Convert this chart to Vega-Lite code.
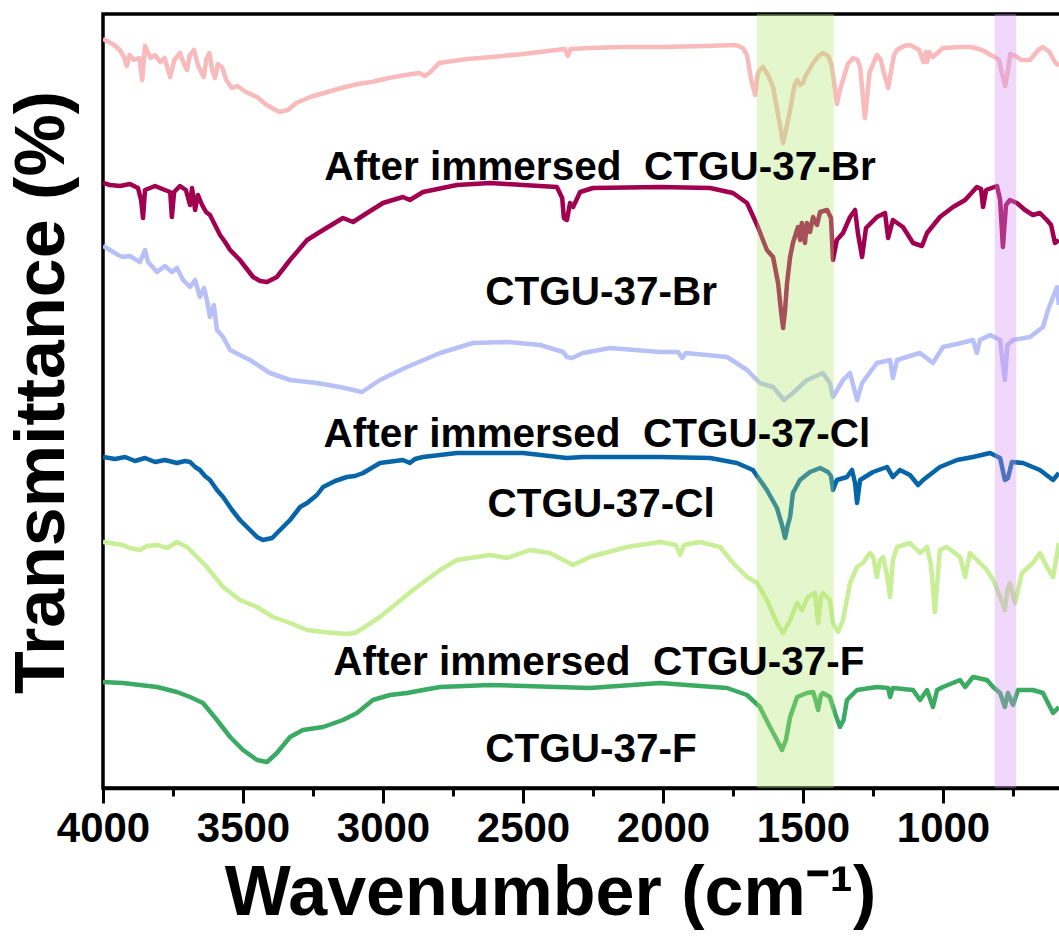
{
  "$schema": "https://vega.github.io/schema/vega-lite/v6.json",
  "autosize": "none",
  "width": 959,
  "height": 774,
  "padding": {"left": 103, "top": 14, "right": 0, "bottom": 150},
  "background": "white",
  "config": {
    "font": "Liberation Sans",
    "view": {"stroke": "black", "strokeWidth": 3.5}
  },
  "datasets": {
    "br_immersed": [
      {"w":4000,"t":749},{"w":3985,"t":747},{"w":3960,"t":743},{"w":3940,"t":738},{"w":3925,"t":731},{"w":3915,"t":722},{"w":3905,"t":733},{"w":3890,"t":728},{"w":3870,"t":730},{"w":3860,"t":708},{"w":3850,"t":742},{"w":3830,"t":730},{"w":3815,"t":733},{"w":3795,"t":726},{"w":3780,"t":730},{"w":3760,"t":711},{"w":3745,"t":728},{"w":3725,"t":735},{"w":3710,"t":723},{"w":3700,"t":718},{"w":3690,"t":733},{"w":3675,"t":738},{"w":3660,"t":722},{"w":3640,"t":711},{"w":3630,"t":730},{"w":3620,"t":735},{"w":3610,"t":718},{"w":3600,"t":710},{"w":3590,"t":724},{"w":3575,"t":721},{"w":3560,"t":708},{"w":3540,"t":700},{"w":3520,"t":702},{"w":3490,"t":696},{"w":3450,"t":691},{"w":3420,"t":684},{"w":3390,"t":679},{"w":3370,"t":676},{"w":3340,"t":678},{"w":3310,"t":685},{"w":3260,"t":691},{"w":3210,"t":695},{"w":3150,"t":700},{"w":3090,"t":704},{"w":3040,"t":706},{"w":2980,"t":710},{"w":2920,"t":713},{"w":2870,"t":715},{"w":2850,"t":712},{"w":2830,"t":716},{"w":2800,"t":725},{"w":2700,"t":729},{"w":2610,"t":731},{"w":2500,"t":734},{"w":2380,"t":738},{"w":2350,"t":739},{"w":2340,"t":732},{"w":2330,"t":739},{"w":2260,"t":740},{"w":2150,"t":741},{"w":2000,"t":741},{"w":1850,"t":742},{"w":1740,"t":743},{"w":1715,"t":740},{"w":1700,"t":733},{"w":1685,"t":708},{"w":1671,"t":693},{"w":1662,"t":714},{"w":1654,"t":718},{"w":1643,"t":721},{"w":1625,"t":713},{"w":1607,"t":701},{"w":1589,"t":673},{"w":1571,"t":645},{"w":1557,"t":663},{"w":1546,"t":678},{"w":1530,"t":703},{"w":1521,"t":708},{"w":1510,"t":703},{"w":1500,"t":705},{"w":1490,"t":713},{"w":1482,"t":716},{"w":1464,"t":725},{"w":1445,"t":732},{"w":1429,"t":735},{"w":1410,"t":732},{"w":1398,"t":723},{"w":1389,"t":706},{"w":1379,"t":684},{"w":1368,"t":698},{"w":1357,"t":708},{"w":1340,"t":724},{"w":1321,"t":730},{"w":1305,"t":728},{"w":1296,"t":721},{"w":1288,"t":698},{"w":1279,"t":670},{"w":1270,"t":693},{"w":1262,"t":716},{"w":1254,"t":721},{"w":1236,"t":733},{"w":1222,"t":728},{"w":1212,"t":716},{"w":1196,"t":700},{"w":1186,"t":716},{"w":1175,"t":733},{"w":1164,"t":738},{"w":1140,"t":742},{"w":1118,"t":743},{"w":1085,"t":738},{"w":1070,"t":726},{"w":1062,"t":736},{"w":1057,"t":726},{"w":1050,"t":736},{"w":1036,"t":731},{"w":1000,"t":740},{"w":940,"t":741},{"w":900,"t":741},{"w":860,"t":738},{"w":830,"t":733},{"w":815,"t":731},{"w":800,"t":728},{"w":788,"t":713},{"w":778,"t":702},{"w":768,"t":718},{"w":760,"t":734},{"w":740,"t":732},{"w":720,"t":728},{"w":689,"t":728},{"w":660,"t":738},{"w":643,"t":741},{"w":620,"t":736},{"w":600,"t":726},{"w":586,"t":722}
    ],
    "br": [
      {"w":4000,"t":605},{"w":3975,"t":603},{"w":3939,"t":602},{"w":3904,"t":604},{"w":3875,"t":600},{"w":3864,"t":588},{"w":3857,"t":570},{"w":3850,"t":598},{"w":3814,"t":602},{"w":3779,"t":598},{"w":3760,"t":596},{"w":3754,"t":571},{"w":3746,"t":596},{"w":3725,"t":602},{"w":3704,"t":598},{"w":3689,"t":583},{"w":3682,"t":600},{"w":3671,"t":578},{"w":3661,"t":593},{"w":3646,"t":583},{"w":3632,"t":576},{"w":3618,"t":573},{"w":3600,"t":563},{"w":3582,"t":553},{"w":3564,"t":546},{"w":3546,"t":538},{"w":3511,"t":528},{"w":3464,"t":511},{"w":3439,"t":507},{"w":3414,"t":506},{"w":3379,"t":511},{"w":3332,"t":528},{"w":3271,"t":548},{"w":3214,"t":558},{"w":3143,"t":570},{"w":3107,"t":566},{"w":3057,"t":575},{"w":3000,"t":585},{"w":2929,"t":591},{"w":2904,"t":588},{"w":2857,"t":596},{"w":2736,"t":603},{"w":2618,"t":605},{"w":2500,"t":603},{"w":2379,"t":601},{"w":2360,"t":590},{"w":2354,"t":570},{"w":2343,"t":568},{"w":2332,"t":585},{"w":2321,"t":581},{"w":2296,"t":596},{"w":2250,"t":600},{"w":2011,"t":601},{"w":1832,"t":600},{"w":1750,"t":595},{"w":1700,"t":585},{"w":1664,"t":563},{"w":1629,"t":538},{"w":1607,"t":531},{"w":1589,"t":505},{"w":1579,"t":478},{"w":1571,"t":460},{"w":1564,"t":478},{"w":1557,"t":505},{"w":1546,"t":531},{"w":1536,"t":545},{"w":1518,"t":561},{"w":1510,"t":548},{"w":1504,"t":565},{"w":1493,"t":545},{"w":1486,"t":565},{"w":1475,"t":556},{"w":1464,"t":571},{"w":1450,"t":563},{"w":1439,"t":576},{"w":1414,"t":578},{"w":1400,"t":570},{"w":1393,"t":528},{"w":1379,"t":548},{"w":1357,"t":555},{"w":1332,"t":571},{"w":1314,"t":578},{"w":1304,"t":555},{"w":1289,"t":531},{"w":1275,"t":560},{"w":1236,"t":571},{"w":1207,"t":575},{"w":1196,"t":550},{"w":1179,"t":568},{"w":1143,"t":561},{"w":1107,"t":545},{"w":1075,"t":542},{"w":1057,"t":555},{"w":1011,"t":571},{"w":964,"t":581},{"w":921,"t":588},{"w":879,"t":601},{"w":864,"t":599},{"w":857,"t":581},{"w":846,"t":598},{"w":807,"t":602},{"w":796,"t":588},{"w":786,"t":541},{"w":775,"t":583},{"w":761,"t":588},{"w":736,"t":585},{"w":707,"t":578},{"w":679,"t":573},{"w":654,"t":575},{"w":629,"t":568},{"w":614,"t":563},{"w":600,"t":545},{"w":586,"t":548}
    ],
    "cl_immersed": [
      {"w":4000,"t":542},{"w":3975,"t":538},{"w":3946,"t":533},{"w":3929,"t":531},{"w":3904,"t":532},{"w":3868,"t":526},{"w":3850,"t":538},{"w":3839,"t":526},{"w":3807,"t":516},{"w":3779,"t":522},{"w":3754,"t":516},{"w":3736,"t":520},{"w":3714,"t":508},{"w":3689,"t":501},{"w":3671,"t":508},{"w":3654,"t":491},{"w":3639,"t":500},{"w":3629,"t":488},{"w":3618,"t":471},{"w":3604,"t":483},{"w":3593,"t":458},{"w":3571,"t":451},{"w":3546,"t":438},{"w":3511,"t":433},{"w":3475,"t":428},{"w":3404,"t":415},{"w":3332,"t":408},{"w":3236,"t":405},{"w":3154,"t":401},{"w":3075,"t":396},{"w":3011,"t":408},{"w":2914,"t":421},{"w":2796,"t":435},{"w":2679,"t":445},{"w":2557,"t":446},{"w":2439,"t":443},{"w":2357,"t":436},{"w":2343,"t":431},{"w":2325,"t":430},{"w":2286,"t":435},{"w":2189,"t":440},{"w":2011,"t":436},{"w":1946,"t":436},{"w":1932,"t":430},{"w":1918,"t":435},{"w":1771,"t":431},{"w":1700,"t":418},{"w":1654,"t":405},{"w":1607,"t":401},{"w":1568,"t":388},{"w":1536,"t":395},{"w":1486,"t":408},{"w":1429,"t":415},{"w":1404,"t":405},{"w":1393,"t":391},{"w":1357,"t":408},{"w":1332,"t":415},{"w":1307,"t":388},{"w":1289,"t":405},{"w":1236,"t":425},{"w":1189,"t":428},{"w":1179,"t":410},{"w":1164,"t":428},{"w":1107,"t":433},{"w":1082,"t":435},{"w":1036,"t":425},{"w":1000,"t":441},{"w":950,"t":444},{"w":893,"t":448},{"w":879,"t":435},{"w":868,"t":448},{"w":832,"t":453},{"w":796,"t":448},{"w":779,"t":408},{"w":770,"t":443},{"w":750,"t":448},{"w":689,"t":451},{"w":643,"t":461},{"w":625,"t":478},{"w":607,"t":491},{"w":593,"t":501},{"w":586,"t":483}
    ],
    "cl": [
      {"w":4000,"t":331},{"w":3957,"t":329},{"w":3921,"t":331},{"w":3886,"t":327},{"w":3850,"t":330},{"w":3814,"t":326},{"w":3779,"t":328},{"w":3736,"t":325},{"w":3707,"t":327},{"w":3689,"t":326},{"w":3671,"t":321},{"w":3654,"t":318},{"w":3636,"t":312},{"w":3618,"t":308},{"w":3593,"t":298},{"w":3571,"t":291},{"w":3539,"t":278},{"w":3511,"t":268},{"w":3475,"t":258},{"w":3450,"t":251},{"w":3429,"t":248},{"w":3396,"t":250},{"w":3357,"t":261},{"w":3332,"t":268},{"w":3296,"t":281},{"w":3271,"t":285},{"w":3236,"t":293},{"w":3214,"t":301},{"w":3171,"t":307},{"w":3129,"t":311},{"w":3100,"t":312},{"w":3071,"t":315},{"w":3011,"t":325},{"w":2929,"t":328},{"w":2904,"t":325},{"w":2886,"t":329},{"w":2857,"t":331},{"w":2736,"t":335},{"w":2500,"t":335},{"w":2343,"t":330},{"w":2286,"t":331},{"w":2011,"t":331},{"w":1832,"t":330},{"w":1736,"t":325},{"w":1679,"t":318},{"w":1629,"t":298},{"w":1593,"t":280},{"w":1575,"t":263},{"w":1564,"t":250},{"w":1554,"t":263},{"w":1546,"t":271},{"w":1536,"t":295},{"w":1511,"t":308},{"w":1475,"t":316},{"w":1439,"t":320},{"w":1411,"t":316},{"w":1400,"t":312},{"w":1393,"t":298},{"w":1379,"t":308},{"w":1343,"t":311},{"w":1325,"t":318},{"w":1314,"t":305},{"w":1307,"t":285},{"w":1296,"t":308},{"w":1250,"t":316},{"w":1200,"t":321},{"w":1179,"t":311},{"w":1154,"t":318},{"w":1118,"t":313},{"w":1089,"t":303},{"w":1071,"t":308},{"w":1011,"t":321},{"w":950,"t":328},{"w":893,"t":331},{"w":832,"t":335},{"w":796,"t":330},{"w":779,"t":308},{"w":768,"t":310},{"w":754,"t":326},{"w":714,"t":325},{"w":654,"t":318},{"w":607,"t":308},{"w":586,"t":315}
    ],
    "f_immersed": [
      {"w":4000,"t":246},{"w":3975,"t":245},{"w":3929,"t":243},{"w":3904,"t":240},{"w":3868,"t":238},{"w":3843,"t":242},{"w":3807,"t":243},{"w":3771,"t":240},{"w":3736,"t":246},{"w":3700,"t":241},{"w":3664,"t":231},{"w":3629,"t":221},{"w":3600,"t":211},{"w":3571,"t":201},{"w":3511,"t":188},{"w":3450,"t":181},{"w":3393,"t":171},{"w":3332,"t":165},{"w":3271,"t":158},{"w":3214,"t":156},{"w":3129,"t":154},{"w":3100,"t":155},{"w":3071,"t":160},{"w":3011,"t":171},{"w":2950,"t":185},{"w":2893,"t":198},{"w":2796,"t":218},{"w":2736,"t":228},{"w":2618,"t":233},{"w":2557,"t":230},{"w":2475,"t":238},{"w":2404,"t":235},{"w":2357,"t":228},{"w":2321,"t":223},{"w":2261,"t":231},{"w":2129,"t":241},{"w":2011,"t":246},{"w":1954,"t":243},{"w":1939,"t":233},{"w":1925,"t":243},{"w":1868,"t":246},{"w":1796,"t":241},{"w":1750,"t":225},{"w":1700,"t":211},{"w":1664,"t":205},{"w":1629,"t":188},{"w":1593,"t":165},{"w":1571,"t":155},{"w":1546,"t":168},{"w":1521,"t":185},{"w":1504,"t":178},{"w":1482,"t":191},{"w":1457,"t":195},{"w":1446,"t":165},{"w":1436,"t":191},{"w":1429,"t":195},{"w":1404,"t":188},{"w":1393,"t":165},{"w":1375,"t":156},{"w":1357,"t":168},{"w":1332,"t":205},{"w":1307,"t":221},{"w":1286,"t":225},{"w":1261,"t":235},{"w":1250,"t":232},{"w":1236,"t":211},{"w":1225,"t":228},{"w":1214,"t":231},{"w":1200,"t":213},{"w":1189,"t":191},{"w":1179,"t":228},{"w":1164,"t":241},{"w":1118,"t":245},{"w":1082,"t":235},{"w":1057,"t":241},{"w":1043,"t":223},{"w":1029,"t":176},{"w":1014,"t":228},{"w":1011,"t":238},{"w":986,"t":241},{"w":939,"t":231},{"w":921,"t":211},{"w":904,"t":235},{"w":843,"t":218},{"w":821,"t":208},{"w":796,"t":191},{"w":779,"t":178},{"w":770,"t":198},{"w":761,"t":205},{"w":750,"t":193},{"w":743,"t":185},{"w":718,"t":215},{"w":679,"t":225},{"w":654,"t":235},{"w":629,"t":221},{"w":607,"t":211},{"w":586,"t":245}
    ],
    "f": [
      {"w":4000,"t":106},{"w":3929,"t":105},{"w":3868,"t":103},{"w":3807,"t":101},{"w":3736,"t":96},{"w":3689,"t":91},{"w":3643,"t":85},{"w":3593,"t":68},{"w":3546,"t":51},{"w":3500,"t":38},{"w":3450,"t":28},{"w":3414,"t":26},{"w":3379,"t":35},{"w":3332,"t":51},{"w":3286,"t":58},{"w":3214,"t":61},{"w":3143,"t":68},{"w":3093,"t":75},{"w":3036,"t":88},{"w":2975,"t":93},{"w":2914,"t":95},{"w":2857,"t":98},{"w":2796,"t":101},{"w":2618,"t":103},{"w":2379,"t":101},{"w":2261,"t":100},{"w":2011,"t":105},{"w":1771,"t":100},{"w":1700,"t":93},{"w":1654,"t":81},{"w":1618,"t":61},{"w":1593,"t":48},{"w":1575,"t":38},{"w":1561,"t":48},{"w":1546,"t":71},{"w":1521,"t":91},{"w":1486,"t":95},{"w":1464,"t":96},{"w":1455,"t":88},{"w":1446,"t":78},{"w":1436,"t":93},{"w":1429,"t":95},{"w":1404,"t":91},{"w":1386,"t":75},{"w":1368,"t":61},{"w":1355,"t":68},{"w":1343,"t":88},{"w":1307,"t":98},{"w":1236,"t":101},{"w":1196,"t":100},{"w":1189,"t":91},{"w":1179,"t":100},{"w":1107,"t":98},{"w":1082,"t":88},{"w":1057,"t":98},{"w":1036,"t":81},{"w":1021,"t":98},{"w":1000,"t":101},{"w":939,"t":108},{"w":921,"t":101},{"w":893,"t":111},{"w":843,"t":108},{"w":821,"t":101},{"w":796,"t":95},{"w":779,"t":81},{"w":768,"t":95},{"w":750,"t":83},{"w":732,"t":98},{"w":679,"t":98},{"w":643,"t":95},{"w":607,"t":75},{"w":586,"t":81}
    ],
    "band_green": [{"w":1665,"w2":1390,"lo":0,"hi":774}],
    "band_violet": [{"w":815,"w2":738,"lo":0,"hi":774}],
    "labels": [
      {"w":2225,"t":620,"label":"After immersed\u00a0 CTGU-37-Br"},
      {"w":2221,"t":495,"label":"CTGU-37-Br"},
      {"w":2236,"t":353,"label":"After immersed\u00a0 CTGU-37-Cl"},
      {"w":2221,"t":283,"label":"CTGU-37-Cl"},
      {"w":2229,"t":125,"label":"After immersed\u00a0 CTGU-37-F"},
      {"w":2257,"t":38,"label":"CTGU-37-F"}
    ]
  },
  "encoding": {
    "x": {
      "field": "w",
      "type": "quantitative",
      "scale": {"domain": [4000, 575], "nice": false, "zero": false},
      "axis": {
        "title": "Wavenumber (cm⁻¹)",
        "values": [4000, 3750, 3500, 3250, 3000, 2750, 2500, 2250, 2000, 1750, 1500, 1250, 1000, 750],
        "format": "d",
        "labelExpr": "datum.value % 500 === 0 ? datum.label : ''",
        "labelOverlap": false,
        "labelFlush": false,
        "grid": false,
        "domainColor": "black",
        "domainWidth": 3.5,
        "tickColor": "black",
        "tickWidth": 3,
        "tickSize": {"condition": {"test": "datum.value % 500 === 0", "value": 15}, "value": 8},
        "labelFont": "Liberation Sans",
        "labelFontWeight": "bold",
        "labelFontSize": 42,
        "labelColor": "black",
        "labelPadding": 5,
        "titleFont": "Liberation Sans",
        "titleFontWeight": "bold",
        "titleFontSize": 70,
        "titleColor": "black",
        "titleX": 447,
        "titleY": 126,
        "titleBaseline": "alphabetic"
      }
    },
    "y": {
      "field": "t",
      "type": "quantitative",
      "scale": {"domain": [0, 774], "nice": false, "zero": false},
      "axis": {
        "title": "Transmittance (%)",
        "domain": false,
        "ticks": false,
        "labels": false,
        "grid": false,
        "titleFont": "Liberation Sans",
        "titleFontWeight": "bold",
        "titleFontSize": 70,
        "titleColor": "black",
        "titleX": -40,
        "titleY": 378,
        "titleBaseline": "alphabetic"
      }
    }
  },
  "layer": [
    {"data": {"name": "br_immersed"}, "mark": {"type": "line", "color": "#f8baba", "strokeWidth": 4.5, "strokeJoin": "round", "clip": true}},
    {"data": {"name": "br"}, "mark": {"type": "line", "color": "#a0004f", "strokeWidth": 4.5, "strokeJoin": "round", "clip": true}},
    {"data": {"name": "cl_immersed"}, "mark": {"type": "line", "color": "#b8c0f8", "strokeWidth": 4.5, "strokeJoin": "round", "clip": true}},
    {"data": {"name": "cl"}, "mark": {"type": "line", "color": "#0565a8", "strokeWidth": 4.5, "strokeJoin": "round", "clip": true}},
    {"data": {"name": "f_immersed"}, "mark": {"type": "line", "color": "#c8ef96", "strokeWidth": 4.5, "strokeJoin": "round", "clip": true}},
    {"data": {"name": "f"}, "mark": {"type": "line", "color": "#3bab63", "strokeWidth": 4.5, "strokeJoin": "round", "clip": true}},
    {
      "data": {"name": "band_green"},
      "mark": {"type": "rect", "color": "#b3e56e", "opacity": 0.35},
      "encoding": {
        "x": {"field": "w", "type": "quantitative"},
        "x2": {"field": "w2"},
        "y": {"field": "lo", "type": "quantitative"},
        "y2": {"field": "hi"}
      }
    },
    {
      "data": {"name": "band_violet"},
      "mark": {"type": "rect", "color": "#d28ef0", "opacity": 0.35},
      "encoding": {
        "x": {"field": "w", "type": "quantitative"},
        "x2": {"field": "w2"},
        "y": {"field": "lo", "type": "quantitative"},
        "y2": {"field": "hi"}
      }
    },
    {
      "data": {"name": "labels"},
      "mark": {"type": "text", "font": "Liberation Sans", "fontWeight": "bold", "fontSize": 40.5, "color": "black", "align": "center", "baseline": "middle"},
      "encoding": {"text": {"field": "label"}}
    }
  ]
}
